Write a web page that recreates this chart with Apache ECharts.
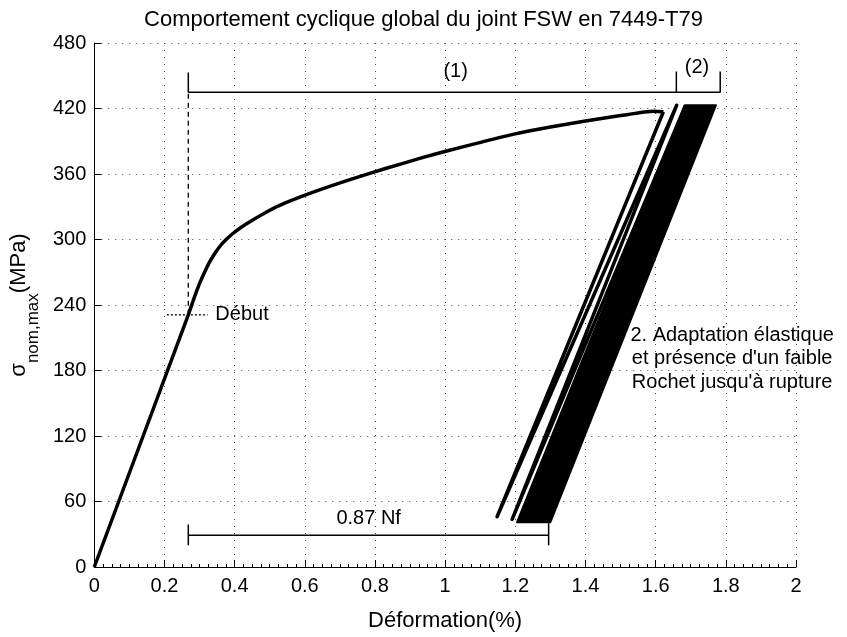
<!DOCTYPE html>
<html>
<head>
<meta charset="utf-8">
<script src="https://cdn.jsdelivr.net/npm/echarts@6/dist/echarts.min.js"></script>
<style>
  html, body { margin: 0; padding: 0; background: #fff; }
  #main { width: 847px; height: 637px; }
</style>
</head>
<body>
<div id="main"></div>
<script>
// courbe de chargement monotone
var loadX = [0, 0.268, 0.283, 0.298, 0.313, 0.328, 0.343, 0.36, 0.376, 0.395, 0.42, 0.447, 0.49, 0.541, 0.63, 0.731, 0.83, 0.93, 1.01, 1.101, 1.196, 1.3, 1.4, 1.5, 1.594, 1.622];
var loadY = [0, 231, 245, 258, 269, 279, 287, 294.5, 300, 305.5, 311.5, 317, 325, 333, 344, 355, 365, 374.5, 381.5, 389, 396.5, 403, 408.5, 413.5, 417.5, 417];
// premiers cycles (decharge / recharge)
var cycleX = [1.622, 1.148, 1.66, 1.191, 1.685];
var cycleY = [417, 46, 423, 43.6, 423];
// enveloppe des cycles stabilises (bande noire)
var bandX = [1.205, 1.30, 1.772, 1.684];
var bandY = [41, 41, 423, 423];
// accolades / reperes
var bracketTop = [[0.268, 453], [0.268, 435], [1.784, 435], [1.784, 454]];
var bracketMid = [[1.659, 435], [1.659, 454]];
var bracketBotL = [[0.268, 39], [0.268, 20]];
var bracketBot = [[0.268, 29], [1.295, 29]];
var bracketBotR = [[1.295, 40], [1.295, 20]];
var debutDash = [[0.268, 231], [0.268, 435]];
var debutDot = [[0.207, 231], [0.323, 231]];
// textes
var noteText = ['(1)', '(2)', 'Début', '0.87 Nf', "2. Adaptation élastique\net présence d'un faible\nRochet jusqu'à rupture"];
var noteX = [1.03, 1.718, 0.345, 0.782, 1.818];
var noteY = [454, 458, 231, 44, 191];
var noteAlign = ['center', 'center', 'left', 'center', 'center'];

var FONT = 'Liberation Sans, Arial, Helvetica, sans-serif';

var loadPath = loadX.map(function (x, k) { return [x, loadY[k]]; });
var cyclePath = cycleX.map(function (x, k) { return [x, cycleY[k]]; });
var band = bandX.map(function (x, k) { return [x, bandY[k]]; });
var notes = noteX.map(function (x, k) { return [x, noteY[k], k]; });

function segLine(data, dash, width) {
  return {
    type: 'line', data: data, symbol: 'none', silent: true,
    lineStyle: { color: '#000', width: width || 1.5, type: dash || 'solid' },
    z: 3
  };
}

const myChart = echarts.init(document.getElementById('main'));
const option = {
  animation: false,
  backgroundColor: '#fff',
  title: {
    text: 'Comportement cyclique global du joint FSW en 7449-T79',
    left: 'center', top: 4,
    textStyle: { fontFamily: FONT, fontSize: 22, fontWeight: 'normal', color: '#000' }
  },
  grid: { left: 93, right: 51, top: 43, bottom: 66 },
  xAxis: {
    type: 'value', min: 0, max: 2, interval: 0.2,
    name: 'Déformation(%)', nameLocation: 'middle', nameGap: 43,
    nameTextStyle: { fontFamily: FONT, fontSize: 22, color: '#000' },
    axisLine: { show: true, lineStyle: { color: '#000', width: 1 } },
    axisTick: { show: true, inside: true, length: 7, lineStyle: { color: '#000' } },
    minorTick: { show: true, splitNumber: 8, length: 3, lineStyle: { color: '#000' } },
    axisLabel: { fontFamily: FONT, fontSize: 20, color: '#000', margin: 9 },
    splitLine: { show: true, lineStyle: { color: '#444', width: 1, type: [1, 6] } }
  },
  yAxis: {
    type: 'value', min: 0, max: 480, interval: 60,
    name: '{s|σ}{sub|nom,max}{s|(MPa)}', nameLocation: 'middle', nameGap: 48,
    nameTextStyle: {
      fontFamily: FONT, color: '#000',
      rich: {
        s: { fontFamily: FONT, fontSize: 22, color: '#000', lineHeight: 34, verticalAlign: 'top' },
        sub: { fontFamily: FONT, fontSize: 17, color: '#000', lineHeight: 34, verticalAlign: 'bottom' }
      }
    },
    axisLine: { show: true, lineStyle: { color: '#000', width: 1 } },
    axisTick: { show: true, inside: true, length: 7, lineStyle: { color: '#000' } },
    axisLabel: { fontFamily: FONT, fontSize: 20, color: '#000', margin: 8 },
    splitLine: { show: true, lineStyle: { color: '#444', width: 1, type: [1, 6] } }
  },
  series: [
    {
      name: 'chargement', type: 'line', data: loadPath, symbol: 'none', silent: true,
      smooth: 0.2,
      lineStyle: { color: '#000', width: 3.5, join: 'round' }, z: 4
    },
    {
      name: 'cycles', type: 'line', data: cyclePath, symbol: 'none', silent: true,
      lineStyle: { color: '#000', width: 3.5, join: 'round' }, z: 4
    },
    {
      name: 'bande', type: 'custom', silent: true, z: 4,
      data: band,
      renderItem: function (params, api) {
        if (params.dataIndex !== 0) return;
        var pts = band.map(function (p) { return api.coord(p); });
        return {
          type: 'polygon',
          shape: { points: pts },
          style: { fill: '#000', stroke: '#000', lineWidth: 2, lineJoin: 'round' }
        };
      }
    },
    segLine(bracketTop),
    segLine(bracketMid),
    segLine(bracketBotL),
    segLine(bracketBot),
    segLine(bracketBotR),
    segLine(debutDash, [5, 4], 1.3),
    segLine(debutDot, [2, 2], 1.3),
    {
      name: 'notes', type: 'custom', silent: true, z: 5,
      data: notes,
      renderItem: function (params, api) {
        var k = api.value(2);
        var p = api.coord([api.value(0), api.value(1)]);
        return {
          type: 'text',
          x: p[0], y: p[1],
          style: {
            text: noteText[k], fill: '#000', align: noteAlign[k], verticalAlign: 'middle',
            font: '20px ' + FONT, lineHeight: 23.5
          }
        };
      }
    }
  ]
};
myChart.setOption(option);
window.addEventListener('resize', function () {
  myChart.resize();
});
</script>
</body>
</html>
